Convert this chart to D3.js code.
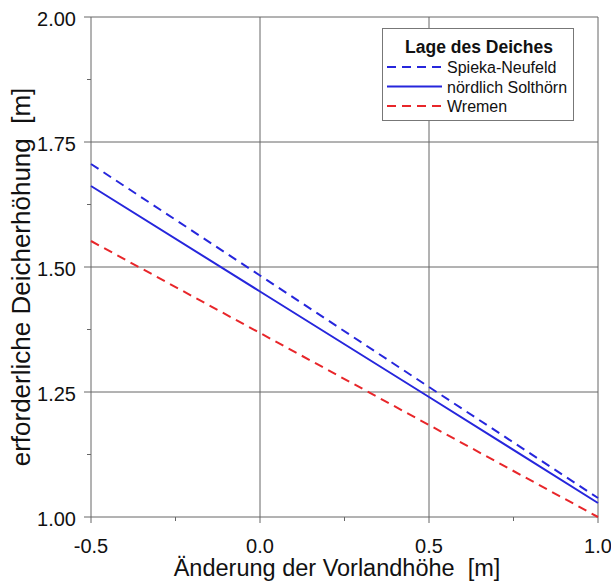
<!DOCTYPE html>
<html><head><meta charset="utf-8">
<script src="https://cdn.jsdelivr.net/npm/d3@7"></script>
<style>
html,body{margin:0;padding:0;background:#fff;}
svg{display:block;font-family:"Liberation Sans",Arial,sans-serif;}
</style></head>
<body>
<script>
const xValues = [-0.5, 0.0, 0.5, 1.0];
const spiekaNeufeld = [1.706, 1.483, 1.260, 1.038];
const noerdlichSolthoern = [1.662, 1.451, 1.240, 1.028];
const wremen = [1.552, 1.368, 1.184, 1.000];
const xTicks = [-0.5, 0.0, 0.5, 1.0];
const xMinorTicks = [-0.25, 0.25, 0.75];
const yTicks = [1.00, 1.25, 1.50, 1.75, 2.00];
const yMinorTicks = [1.125, 1.375, 1.625, 1.875];
const seriesNames = ["Spieka-Neufeld", "nördlich Solthörn", "Wremen"];
const legendTitle = "Lage des Deiches";
const xTitle = "Änderung der Vorlandhöhe\u00a0\u00a0[m]";
const yTitle = "erforderliche Deicherhöhung\u00a0\u00a0[m]";

const W = 611, H = 581;
const m = {left: 91, right: 13, top: 17, bottom: 64};
const svg = d3.select("body").append("svg").attr("width", W).attr("height", H);

const x = d3.scaleLinear().domain([-0.5, 1.0]).range([m.left, W - m.right]);
const y = d3.scaleLinear().domain([1.0, 2.0]).range([H - m.bottom, m.top]);

const grid = "#666";
svg.append("g").selectAll("line").data(xTicks).join("line")
  .attr("x1", d => x(d)).attr("x2", d => x(d))
  .attr("y1", y(2.0)).attr("y2", y(1.0) + 6)
  .attr("stroke", grid).attr("stroke-width", 1);
svg.append("g").selectAll("line").data(yTicks).join("line")
  .attr("x1", x(-0.5) - 7).attr("x2", x(1.0))
  .attr("y1", d => y(d)).attr("y2", d => y(d))
  .attr("stroke", grid).attr("stroke-width", 1);
svg.append("g").selectAll("line").data(xMinorTicks).join("line")
  .attr("x1", d => x(d)).attr("x2", d => x(d))
  .attr("y1", y(1.0)).attr("y2", y(1.0) + 4)
  .attr("stroke", grid);
svg.append("g").selectAll("line").data(yMinorTicks).join("line")
  .attr("x1", x(-0.5) - 4).attr("x2", x(-0.5))
  .attr("y1", d => y(d)).attr("y2", d => y(d))
  .attr("stroke", grid);

const fmtX = d => d3.format(".1f")(d).replace("\u2212", "-");
svg.append("g").selectAll("text").data(xTicks).join("text")
  .attr("x", d => x(d)).attr("y", y(1.0) + 36)
  .attr("text-anchor", "middle").attr("font-size", 20).attr("fill", "#111")
  .text(fmtX);
svg.append("g").selectAll("text").data(yTicks).join("text")
  .attr("x", x(-0.5) - 15).attr("y", d => y(d) + 9)
  .attr("text-anchor", "end").attr("font-size", 20).attr("fill", "#111")
  .text(d => d3.format(".2f")(d));

svg.append("text").attr("x", 337).attr("y", H - 5)
  .attr("text-anchor", "middle").attr("font-size", 23.5).attr("fill", "#111")
  .text(xTitle);
svg.append("text").attr("transform", `translate(30,${(y(1.0)+y(2.0))/2 + 10}) rotate(-90)`)
  .attr("text-anchor", "middle").attr("font-size", 26).attr("fill", "#111")
  .text(yTitle);

const series = [
  {name: seriesNames[0], vals: spiekaNeufeld, color: "#2626dc", dash: "9,6"},
  {name: seriesNames[1], vals: noerdlichSolthoern, color: "#2626dc", dash: null},
  {name: seriesNames[2], vals: wremen, color: "#e8262a", dash: "9,6"}
];
const line = d3.line().x(d => x(d[0])).y(d => y(d[1]));
series.forEach(s => {
  svg.append("path").datum(xValues.map((v, i) => [v, s.vals[i]]))
    .attr("d", line).attr("fill", "none")
    .attr("stroke", s.color).attr("stroke-width", 2)
    .attr("stroke-dasharray", s.dash);
});

const lg = svg.append("g");
lg.append("rect").attr("x", 382.5).attr("y", 28.5).attr("width", 191).attr("height", 92)
  .attr("fill", "#fff").attr("stroke", "#777").attr("stroke-width", 1);
lg.append("text").attr("x", 479).attr("y", 53).attr("text-anchor", "middle")
  .attr("font-size", 17.5).attr("font-weight", "bold").attr("fill", "#111").text(legendTitle);
series.forEach((s, i) => {
  const yy = 67 + i * 19.5;
  lg.append("line").attr("x1", 387).attr("x2", 442).attr("y1", yy).attr("y2", yy)
    .attr("stroke", s.color).attr("stroke-width", 2).attr("stroke-dasharray", s.dash);
  lg.append("text").attr("x", 447).attr("y", yy + 6).attr("font-size", 16).attr("fill", "#111").text(s.name);
});
</script>
</body></html>
